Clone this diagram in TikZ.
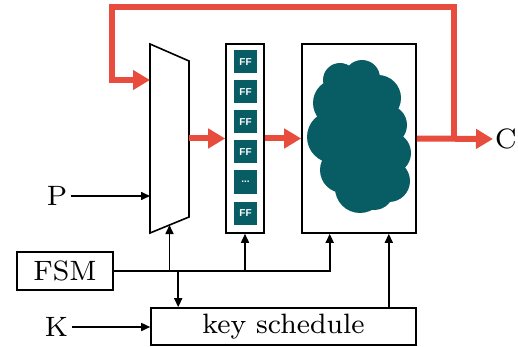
\documentclass[tikz,border=0pt]{standalone}
\usepackage{fontspec}
\usetikzlibrary{arrows.meta,calc}
\newfontfamily\lmeight{lmroman8-regular.otf}
\newfontfamily\cellfont{Liberation Sans}
\definecolor{busred}{RGB}{231,76,60}
\definecolor{cloudteal}{RGB}{8,92,99}
\newcommand\ffdots{...}
\begin{document}
\begin{tikzpicture}[x=1pt,y=-1pt,
  box/.style={draw,line width=1.6pt,inner sep=0pt},
  wire/.style={line width=1.6pt,-{Triangle[length=9pt,width=8pt]}},
  bus/.style={busred,line width=6pt,-{Triangle[length=17pt,width=19pt]}},
  ffcell/.style={fill=cloudteal,minimum size=23pt,inner sep=0pt,text=white,
    font=\cellfont\bfseries\fontsize{10}{10}\selectfont},
  lbl/.style={font=\lmeight\fontsize{28}{28}\selectfont}]
\useasboundingbox (0,0) rectangle (518,347);

% multiplexer
\draw[line width=1.6pt] (150,44) coordinate (mtl) -- (189,61) coordinate (mtr)
  -- (189,217) coordinate (mbr) -- (150,233) coordinate (mbl) -- cycle;
\coordinate (msel) at ($(mbl)!0.5!(mbr)$);
\coordinate (mfb) at ($(mtl)+(0,36)$);

% state register
\node[box,minimum width=38pt,minimum height=189pt] (reg) at (245,138.5) {};
\foreach \i/\y/\t in {1/62/FF,2/92/FF,3/122/FF,4/152/FF,5/182/\ffdots,6/213/FF}
  \node[ffcell] (ff\i) at (245.5,\y) {\t};

% round function: a cloud made of overlapping discs
\node[box,minimum width=114pt,minimum height=189pt] (core) at (359,138.5) {};
\fill[cloudteal]
  (340,80) circle (17) (362,78) circle (18) (378,98) circle (23)
  (387,125) circle (20) (390,153) circle (21) (389,181) circle (21)
  (374,190) circle (20) (360,188) circle (25) (343,170) circle (23)
  (333,137) circle (26) (337,103) circle (24)
  (360,135) ellipse (35 and 60);

% control and key schedule
\node[box,lbl,minimum width=96pt,minimum height=38pt] (fsm) at (65,271) {FSM};
\node[box,lbl,minimum width=265pt,minimum height=37pt] (ks) at (283.5,326.5) {key schedule};

% external labels
\node[lbl] (p) at (57,196) {P};
\node[lbl] (k) at (56.5,327) {K};
\node[lbl,anchor=west,inner sep=2pt] (c) at (493,139) {C};

% black signal wires
\coordinate (cfsm) at ($(core.south west)+(28.5,0)$);
\coordinate (cks) at ($(core.south east)+(-28,0)$);
\coordinate (ksin) at ($(ks.north west)+(28,0)$);
\draw[wire] (p.east) -- (mtl |- p);
\draw[wire] (k.east) -- (ks.west |- k);
\draw[wire] (fsm.east) -| (cfsm);
\draw[wire] (msel |- fsm.east) -- (msel);
\draw[wire] (reg.south |- fsm.east) -- (reg.south);
\draw[wire] (ksin |- fsm.east) -- (ksin);
\draw[wire] (ks.north -| cks) -- (cks);

% red data path
\coordinate (tap) at ($(core.east)+(37,0)$);
\coordinate (loop) at (112,7);
\draw[bus] (mbr |- reg) -- (reg.west);
\draw[bus] (reg.east) -- (core.west);
\draw[bus] (core.east) -- (c.west);
\draw[bus] (tap) |- (loop) |- (mfb);
\end{tikzpicture}
\end{document}
